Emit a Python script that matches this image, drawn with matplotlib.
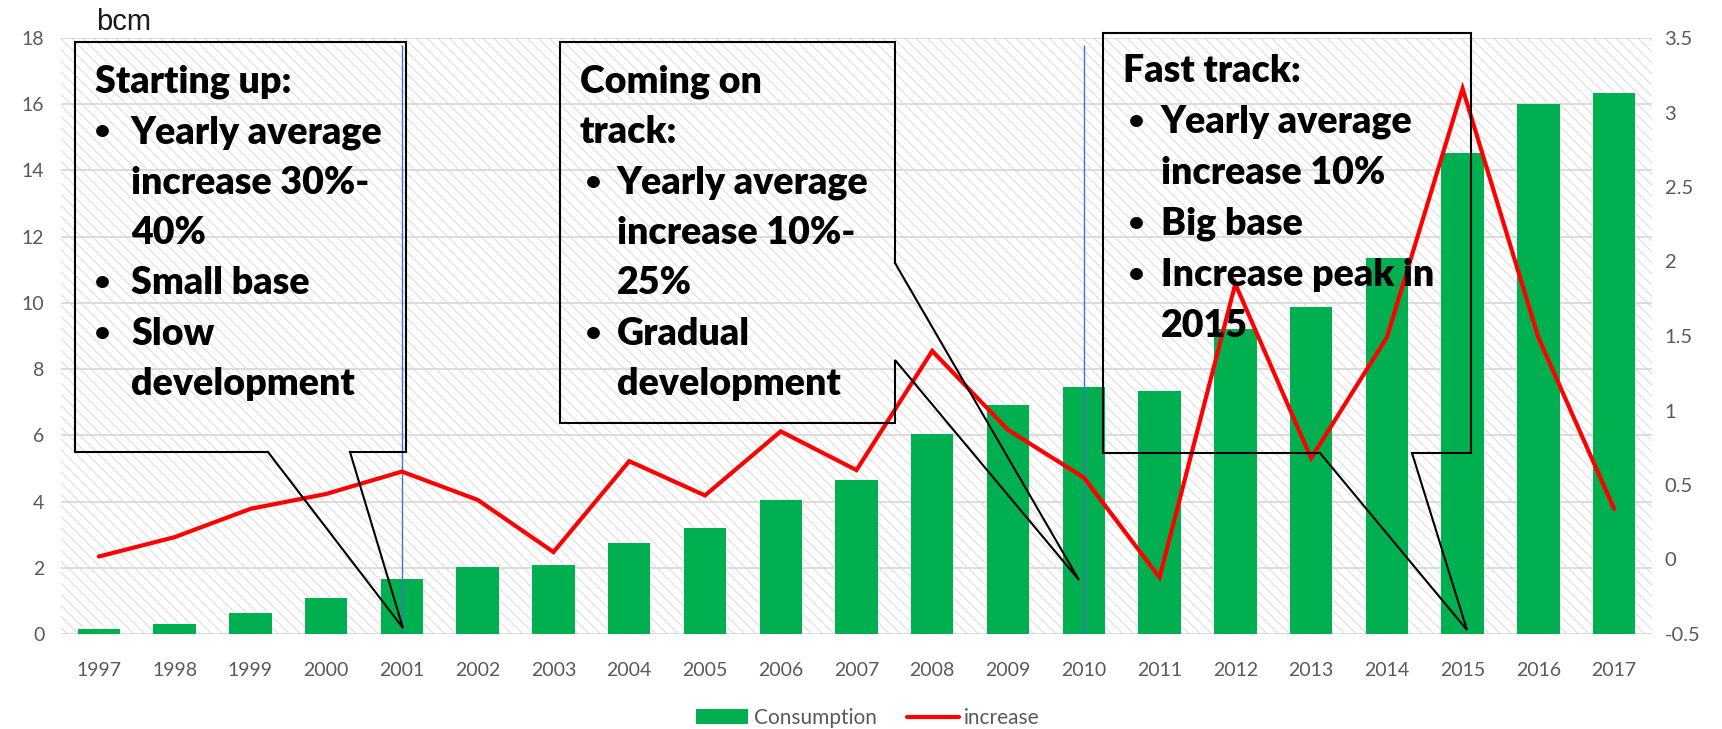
import matplotlib.pyplot as plt
import numpy as np

plt.rcParams['font.family'] = ['Lato', 'DejaVu Sans']
plt.rcParams['hatch.linewidth'] = 0.7

# values
years = ['1997', '1998', '1999', '2000', '2001', '2002', '2003', '2004', '2005', '2006', '2007',
         '2008', '2009', '2010', '2011', '2012', '2013', '2014', '2015', '2016', '2017']
consumption = [0.15, 0.30, 0.64, 1.08, 1.67, 2.03, 2.09, 2.76, 3.19, 4.05, 4.65,
               6.05, 6.91, 7.47, 7.34, 9.20, 9.87, 11.36, 14.52, 16.00, 16.35]
increase = [0.02, 0.15, 0.34, 0.44, 0.59, 0.40, 0.05, 0.66, 0.43, 0.86, 0.60,
            1.40, 0.87, 0.55, -0.12, 1.85, 0.68, 1.49, 3.16, 1.49, 0.34]
left_ticks = [0, 2, 4, 6, 8, 10, 12, 14, 16, 18]
right_ticks = [-0.5, 0, 0.5, 1, 1.5, 2, 2.5, 3, 3.5]
right_labels = ['-0.5', '0', '0.5', '1', '1.5', '2', '2.5', '3', '3.5']
marker_years = ['2001', '2010']

# callout texts: 0 = heading, 1 = bullet, 2 = continued line
box1_lines = [(0, 'Starting up:'), (1, 'Yearly average'), (2, 'increase 30%-'), (2, '40%'),
              (1, 'Small base'), (1, 'Slow'), (2, 'development')]
box2_lines = [(0, 'Coming on'), (0, 'track:'), (1, 'Yearly average'), (2, 'increase 10%-'),
              (2, '25%'), (1, 'Gradual'), (2, 'development')]
box3_lines = [(0, 'Fast track:'), (1, 'Yearly average'), (2, 'increase 10%'), (1, 'Big base'),
              (1, 'Increase peak in'), (2, '2015')]

W, H = 1722, 729
fig = plt.figure(figsize=(W / 100, H / 100), dpi=100)
ax = fig.add_axes([61 / W, 1 - 634 / H, 1591 / W, 596 / H])

x = np.arange(len(years))

# hatched plot area
ax.patch.set_facecolor('white')
ax.patch.set_hatch('\\\\\\')
ax.patch.set_edgecolor('#dadada')
ax.patch.set_linewidth(0)

bars = ax.bar(x, consumption, width=0.56, color='#00B050', zorder=3, label='Consumption')
ax.set_xlim(-0.5, len(years) - 0.5)
ax.set_ylim(0, 18)
ax.set_yticks(left_ticks)
ax.set_xticks(x)
ax.set_xticklabels(years)
ax.yaxis.grid(True, color='#d9d9d9', lw=1.3)
ax.set_axisbelow(True)
for s in ax.spines.values():
    s.set_visible(False)
ax.tick_params(axis='both', length=0, labelsize=14, labelcolor='#595959')
ax.tick_params(axis='y', pad=12)
ax.tick_params(axis='x', pad=20)

# thin blue markers
mx = [years.index(y) for y in marker_years]
ax.vlines(mx, 0, 17.8, color='#4472C4', lw=1, zorder=4)

ax2 = ax.twinx()
line, = ax2.plot(x, increase, color='#FF0000', lw=3, zorder=5, label='increase',
                 solid_capstyle='round', solid_joinstyle='miter')
ax2.set_ylim(-0.5, 3.5)
ax2.set_yticks(right_ticks)
ax2.set_yticklabels(right_labels)
for s in ax2.spines.values():
    s.set_visible(False)
ax2.tick_params(axis='y', length=0, labelsize=14.5, labelcolor='#595959', pad=9)

fig.text(124 / W, 1 - 22 / H, 'bcm', fontsize=21, color='#1a1a1a', ha='center', va='center',
         family='Liberation Sans')

fig.legend(handles=[bars, line], loc='center', bbox_to_anchor=(868 / W, 1 - 718 / H), ncol=2,
           frameon=False, fontsize=15, handlelength=2.5, handletextpad=0.25,
           columnspacing=1.45, labelcolor='#595959')

# callouts drawn in pixel space
ov = fig.add_axes([0, 0, 1, 1], zorder=10)
ov.set_xlim(0, W)
ov.set_ylim(H, 0)
ov.axis('off')
ov.patch.set_alpha(0)

shape1 = [(268, 452), (75, 452), (75, 42), (406, 42), (406, 452), (350, 452), (403, 628), (268, 452)]
shape2 = [(895, 263), (895, 42), (560, 42), (560, 423), (895, 423), (895, 360), (1079, 580), (895, 263)]
shape3 = [(1320, 453), (1103, 453), (1103, 33), (1471, 33), (1471, 453), (1412, 453), (1467, 630), (1320, 453)]
for shp in [shape1, shape2, shape3]:
    xs, ys = zip(*shp)
    ov.plot(xs, ys, color='black', lw=1.5, solid_joinstyle='miter')


def write_box(lines, xh, xb, xt, y0, dy):
    for i, (kind, txt) in enumerate(lines):
        yy = y0 + i * dy
        if kind == 0:
            ov.text(xh, yy, txt, fontsize=27, fontweight='heavy', va='center', ha='left')
        else:
            if kind == 1:
                ov.text(xb, yy, '\u2022', fontsize=21, fontweight='bold', va='center', ha='center')
            ov.text(xt, yy, txt, fontsize=27, fontweight='heavy', va='center', ha='left')


write_box(box1_lines, 95, 102, 131, 82, 50.3)
write_box(box2_lines, 580, 593, 617, 82, 50.3)
write_box(box3_lines, 1123, 1136, 1161, 71, 51)

fig.savefig('out.png', dpi=100)
